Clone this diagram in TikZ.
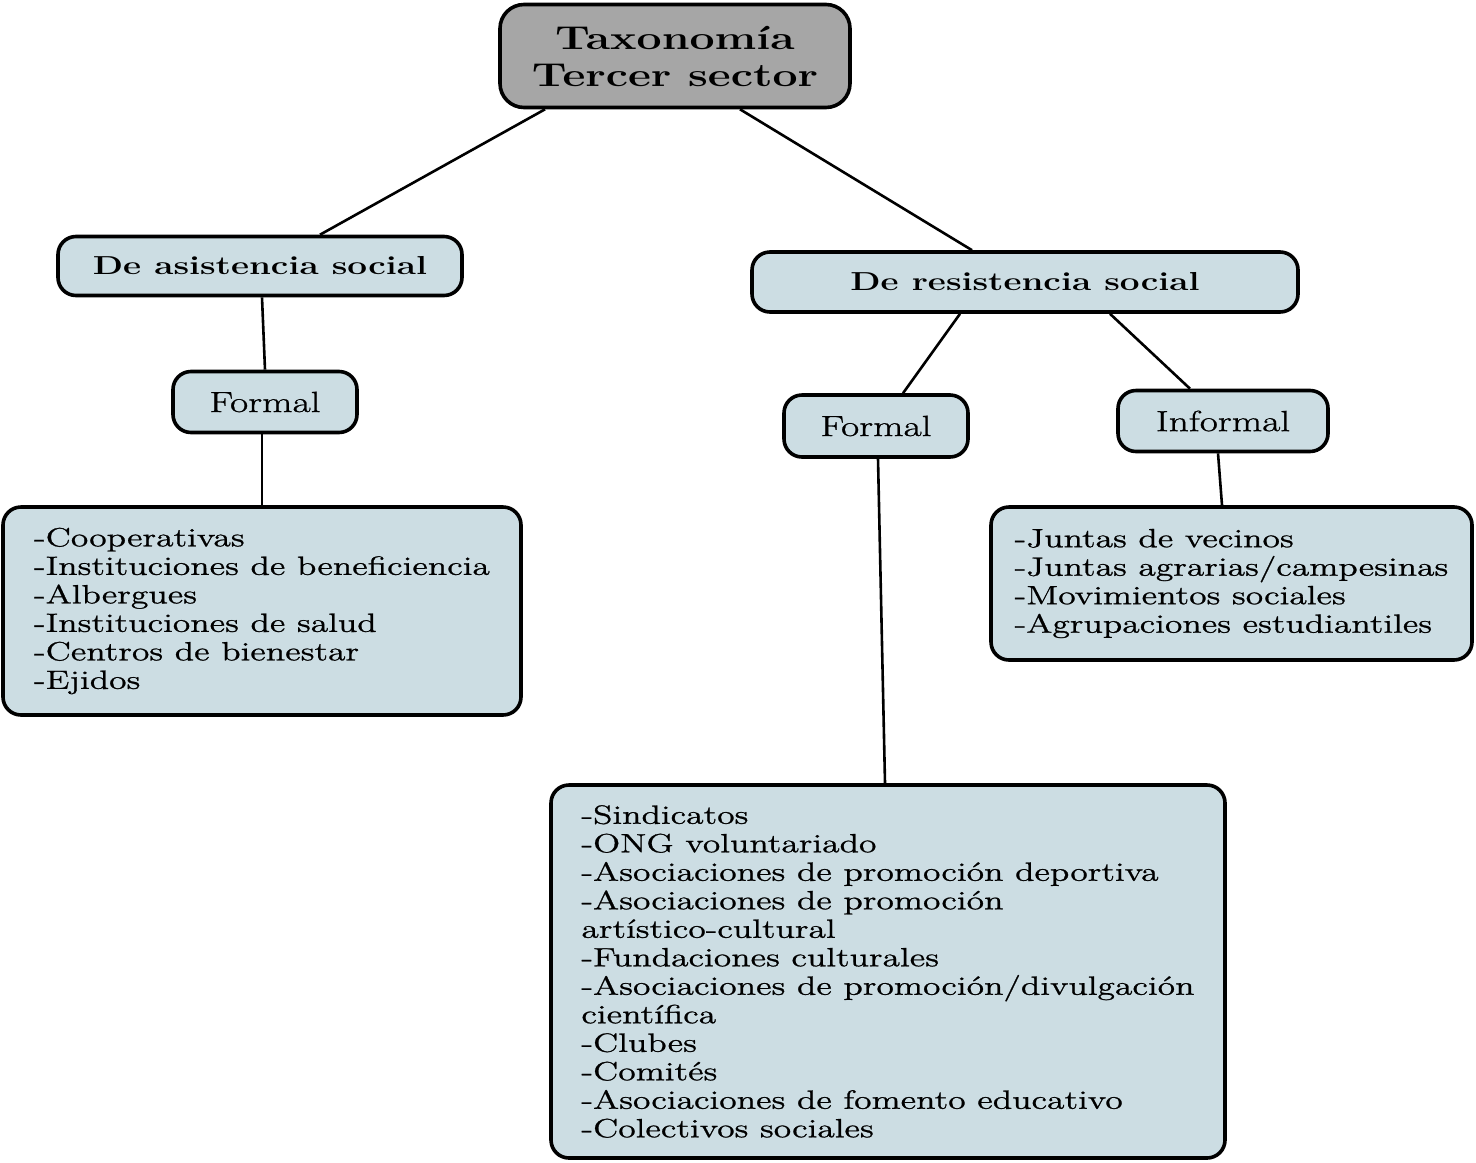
\documentclass[tikz,border=0pt]{standalone}
\usepackage{fontspec}
\setmainfont{Latin Modern Roman}[FakeStretch=1.35,UprightFeatures={FakeBold=0.9}]
\usetikzlibrary{calc}
\definecolor{boxblue}{RGB}{204,221,227}
\definecolor{rootgray}{RGB}{166,166,166}

\begin{document}
\begin{tikzpicture}[x=0.5pt,y=-0.5pt,
  box/.style={draw,line width=1.8pt,rounded corners=9pt,fill=boxblue,inner sep=0pt},
  root/.style={box,fill=rootgray,rounded corners=12pt,font=\fontsize{16.5}{18.5}\selectfont\bfseries,align=center},
  kind/.style={box,font=\fontsize{13}{15}\selectfont\bfseries},
  form/.style={box,font=\fontsize{14.6}{16}\selectfont},
  items/.style={box,align=left,font=\fontsize{13.2}{14.25}\selectfont},
  link/.style={line width=1.3pt}]
\useasboundingbox (0,0) rectangle (1476,1162);
\node[root,minimum width=175pt,minimum height=51.5pt] (tax) at (675,56) {Taxonomía\\Tercer sector};
\node[kind,minimum width=202pt,minimum height=29.5pt] (asis) at (260,266) {De asistencia social};
\node[kind,minimum width=273pt,minimum height=30pt] (resis) at (1025,282) {De resistencia social};
\node[form,minimum width=92pt,minimum height=30.5pt] (formA) at (265,402) {Formal};
\node[form,minimum width=92pt,minimum height=31pt] (formR) at (876,426) {Formal};
\node[form,minimum width=105pt,minimum height=30.5pt] (infor) at (1223,421) {Informal};
\node[items,minimum width=259pt,minimum height=104pt] (listA) at (262,611) {-Cooperativas\\
  -Instituciones de beneficiencia\\-Albergues\\-Instituciones de salud\\
  -Centros de bienestar\\-Ejidos};
\node[items,minimum width=240.5pt,minimum height=76.5pt] (listI) at (1231.5,583.5) {-Juntas de vecinos\\
  -Juntas agrarias/campesinas\\-Movimientos sociales\\-Agrupaciones estudiantiles};
\node[items,minimum width=337pt,minimum height=186.5pt] (listF) at (888,971.5) {-Sindicatos\\
  -ONG voluntariado\\-Asociaciones de promoción deportiva\\-Asociaciones de promoción\\
  artístico-cultural\\-Fundaciones culturales\\-Asociaciones de promoción/divulgación\\
  científica\\-Clubes\\-Comités\\-Asociaciones de fomento educativo\\-Colectivos sociales};
% connectors
\draw[link] ($(tax.south)+(-130,0)$) -- ($(asis.north)+(60,0)$);
\draw[link] ($(tax.south)+(65,0)$) -- ($(resis.north)+(-53,0)$);
\draw[link] ($(asis.south)+(2,0)$) -- (formA.north);
\draw[link] ($(formA.south)+(-3,0)$) -- (listA.north);
\draw[link] ($(resis.south)+(-65,0)$) -- ($(formR.north)+(27,0)$);
\draw[link] ($(resis.south)+(85,0)$) -- ($(infor.north)+(-33,0)$);
\draw[link] ($(formR.south)+(2,0)$) -- ($(listF.north)+(-3,0)$);
\draw[link] ($(infor.south)+(-5,0)$) -- ($(listI.north)+(-9.5,0)$);
\end{tikzpicture}
\end{document}
